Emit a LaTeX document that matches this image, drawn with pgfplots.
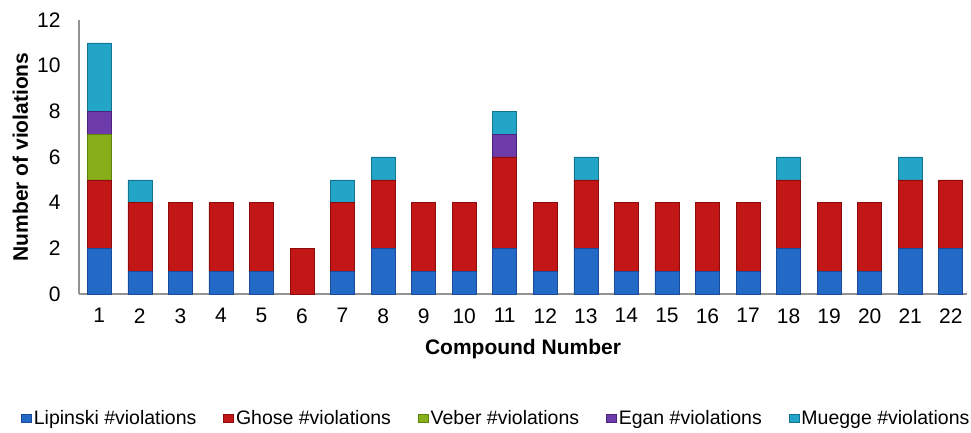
\documentclass[border=0pt]{standalone}
\usepackage{pgfplots}
\pgfplotsset{compat=1.18}
\usepackage{fontspec}
\setmainfont{Liberation Sans}
\definecolor{cL}{RGB}{35,105,200}
\definecolor{cLd}{RGB}{25,75,150}
\definecolor{cG}{RGB}{195,22,22}
\definecolor{cGd}{RGB}{140,12,12}
\definecolor{cV}{RGB}{135,175,25}
\definecolor{cVd}{RGB}{95,130,10}
\definecolor{cE}{RGB}{110,60,170}
\definecolor{cEd}{RGB}{75,35,125}
\definecolor{cM}{RGB}{35,165,200}
\definecolor{cMd}{RGB}{20,115,145}
\pgfplotstableread{
x L G V E M
1 2 3 2 1 3
2 1 3 0 0 1
3 1 3 0 0 0
4 1 3 0 0 0
5 1 3 0 0 0
6 0 2 0 0 0
7 1 3 0 0 1
8 2 3 0 0 1
9 1 3 0 0 0
10 1 3 0 0 0
11 2 4 0 1 1
12 1 3 0 0 0
13 2 3 0 0 1
14 1 3 0 0 0
15 1 3 0 0 0
16 1 3 0 0 0
17 1 3 0 0 0
18 2 3 0 0 1
19 1 3 0 0 0
20 1 3 0 0 0
21 2 3 0 0 1
22 2 3 0 0 0
}\datatable
\begin{document}
\begin{tikzpicture}
\path[use as bounding box] (-79pt,-139pt) rectangle (892pt,294pt);
\begin{axis}[
  at={(0pt,0pt)}, anchor=origin,
  scale only axis, width=888pt, height=274pt,
  ybar stacked, bar width=24pt,
  xmin=0.5, xmax=22.4, ymin=0, ymax=12,
  xtick={1,...,22}, ytick={0,2,...,12},
  axis x line=bottom, axis y line=left,
  axis line style={-, draw=gray!85, line width=1.2pt},
  major tick length=0pt,
  tick label style={font=\fontsize{21}{24}\selectfont},
  /pgf/number format/assume math mode=true,
  yticklabel style={xshift=-15pt},
  xticklabel style={yshift=-11pt},
  xlabel={\textbf{Compound Number}},
  ylabel={\textbf{Number of violations}},
  label style={font=\fontsize{21}{24}\selectfont},
  xlabel style={at={(axis description cs:0.5,-0.2)}, anchor=center},
  ylabel style={at={(axis description cs:-0.066,0.5)}, anchor=center},
  legend columns=5,
  legend style={draw=none, at={(0.47,-0.4526)}, anchor=center, inner sep=0pt,
    font=\fontsize{19.5}{22}\selectfont, /tikz/every even column/.append style={column sep=25pt}},
  legend image code/.code={\fill[#1] (0pt,-4pt) rectangle (10pt,4pt);},
  every axis plot/.append style={line width=0.6pt},
]
\addplot[draw=cLd, fill=cL] table[x=x,y=L]{\datatable};
\addplot[draw=cGd, fill=cG] table[x=x,y=G]{\datatable};
\addplot[draw=cVd, fill=cV] table[x=x,y=V]{\datatable};
\addplot[draw=cEd, fill=cE] table[x=x,y=E]{\datatable};
\addplot[draw=cMd, fill=cM] table[x=x,y=M]{\datatable};
\legend{Lipinski \#violations, Ghose \#violations, Veber \#violations, Egan \#violations, Muegge \#violations}
\end{axis}
\end{tikzpicture}
\end{document}
